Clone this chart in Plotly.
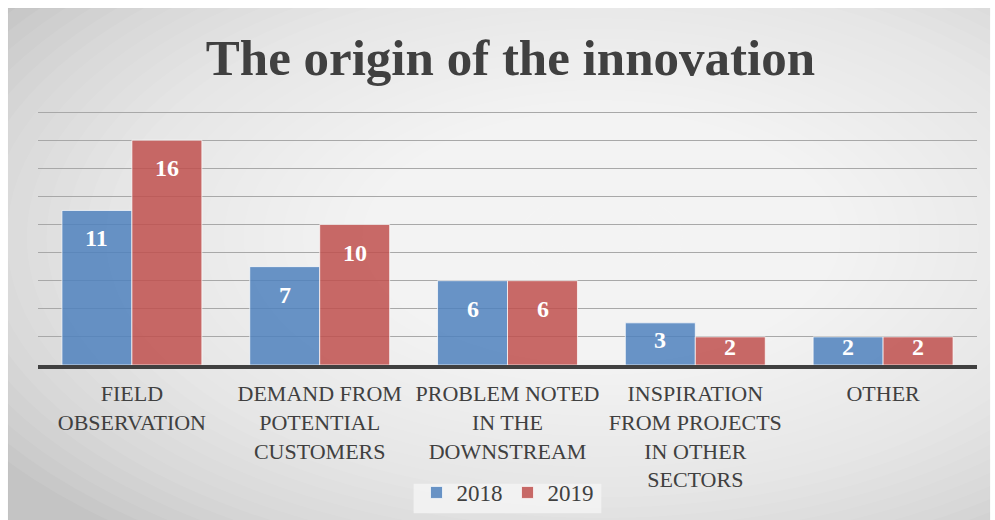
import plotly.graph_objects as go

categories = ["FIELD<br>OBSERVATION", "DEMAND FROM<br>POTENTIAL<br>CUSTOMERS",
              "PROBLEM NOTED<br>IN THE<br>DOWNSTREAM",
              "INSPIRATION<br>FROM PROJECTS<br>IN OTHER<br>SECTORS", "OTHER"]
values_2018 = [11, 7, 6, 3, 2]
values_2019 = [16, 10, 6, 2, 2]

blue = "rgba(79,129,189,0.85)"
red = "rgba(192,80,77,0.85)"
text_color = "#404040"
serif = "Liberation Serif"

fig = go.Figure()
fig.add_trace(go.Bar(name="2018", x=categories, y=values_2018, marker_color=blue,
                     marker_line=dict(color="rgba(255,255,255,0.7)", width=1)))
fig.add_trace(go.Bar(name="2019", x=categories, y=values_2019, marker_color=red,
                     marker_line=dict(color="rgba(255,255,255,0.7)", width=1)))

# value labels just inside the top of each bar
annotations = []
for vals, shift in ((values_2018, -35), (values_2019, 35)):
    for cat, v in zip(categories, vals):
        annotations.append(dict(x=cat, y=v, xref="x", yref="y", text="<b>%d</b>" % v,
                                showarrow=False, xshift=shift, yanchor="middle",
                                yshift=-min(28, 7 * v - 4),
                                font=dict(family=serif, size=24, color="white")))

# grey chart frame with a soft radial highlight
shapes = [dict(type="rect", xref="paper", yref="paper", x0=-0.032, x1=1.014, y0=-0.7, y1=1.4,
               fillcolor="#c4c4c4", line=dict(color="#c0c0c0", width=1), layer="below")]
for i in range(36):
    rx = 0.78 - i * 0.021
    ry = 1.5 - i * 0.04
    shapes.append(dict(type="circle", xref="paper", yref="paper",
                       x0=0.6 - rx, x1=0.6 + rx, y0=0.5 - ry, y1=0.5 + ry,
                       fillcolor="rgba(255,255,255,0.075)", line=dict(width=0), layer="below"))
# legend box
shapes.append(dict(type="rect", xref="paper", yref="paper", x0=0.4, x1=0.6, y0=-0.581, y1=-0.466,
                   fillcolor="rgba(245,245,245,0.8)", line=dict(width=0), layer="below"))
# clip the outer margin back to white
shapes.append(dict(type="rect", xref="paper", yref="paper", x0=-0.1, x1=-0.032, y0=-0.8, y1=1.6,
                   fillcolor="white", line=dict(width=0), layer="below"))
shapes.append(dict(type="rect", xref="paper", yref="paper", x0=-0.1, x1=1.1, y0=1.4, y1=1.6,
                   fillcolor="white", line=dict(width=0), layer="below"))
shapes.append(dict(type="rect", xref="paper", yref="paper", x0=1.014, x1=1.1, y0=-0.8, y1=1.6,
                   fillcolor="white", line=dict(width=0), layer="below"))

fig.update_layout(
    width=995, height=520,
    margin=dict(l=38, r=18, t=110, b=155, autoexpand=False),
    paper_bgcolor="white", plot_bgcolor="rgba(0,0,0,0)",
    title=dict(text="<b>The origin of the innovation</b>", x=0.513, xanchor="center",
               y=0.89, yanchor="middle",
               font=dict(family=serif, size=51, color=text_color)),
    barmode="group", bargap=0.255, bargroupgap=0.0,
    shapes=shapes, annotations=annotations,
    font=dict(family=serif, color=text_color),
    legend=dict(orientation="h", x=0.5, xanchor="center", y=-0.50, yanchor="middle",
                font=dict(family=serif, size=23, color=text_color), bgcolor="rgba(0,0,0,0)",
                itemwidth=30, traceorder="normal"),
    xaxis=dict(tickfont=dict(family=serif, size=22, color=text_color), showline=True,
               linecolor="#404040", linewidth=4, ticks="", automargin=False,
               ticklabelstandoff=6),
    yaxis=dict(range=[0, 18.15], dtick=2, showticklabels=False, showgrid=True,
               gridcolor="#a8a8a8", gridwidth=1, zeroline=False, automargin=False),
)

fig.write_html("out.html", config={"displayModeBar": False},
               post_script="document.body.style.margin='0';")
